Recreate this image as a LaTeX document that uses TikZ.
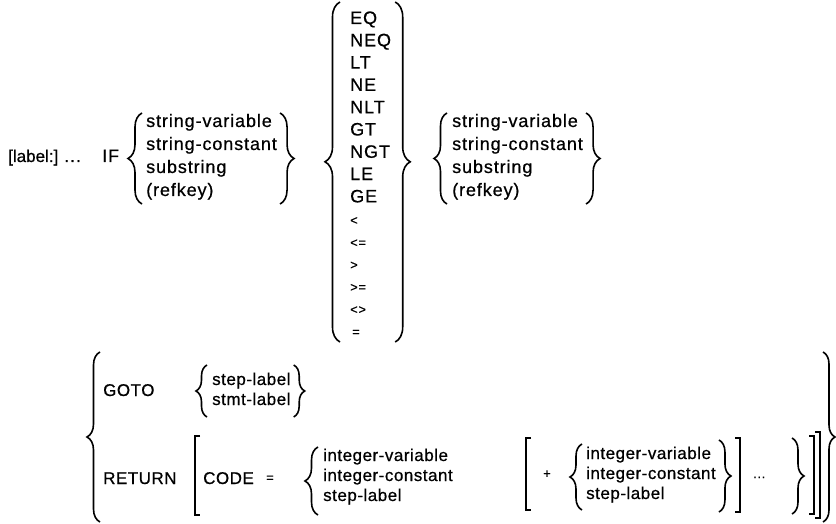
\documentclass[tikz,border=0pt]{standalone}
\usepackage{fontspec}
\setmainfont{Liberation Sans}[LetterSpace=5,FakeBold=0.6]
\usetikzlibrary{decorations.pathreplacing}
\tikzset{
  txt/.style={anchor=base west, inner sep=0pt, font=\fontsize{18}{21}\selectfont},
  btxt/.style={anchor=base west, inner sep=0pt, font=\fontsize{17}{20}\selectfont\addfontfeature{LetterSpace=3}},
  sym/.style={anchor=base west, inner sep=0pt, font=\fontsize{13}{15}\selectfont},
  brc/.style={decorate, decoration={brace, amplitude=#1}, line width=1.6pt},
  brk/.style={line width=1.8pt},
}
\begin{document}
\begin{tikzpicture}[x=1pt,y=-1pt]
\useasboundingbox[fill=white] (0,0) rectangle (836,524);
% ---- IF line
\node[anchor=base west, inner sep=0pt, font=\fontsize{17}{20}\selectfont\addfontfeature{LetterSpace=0}] (lab) at (8,162) {[label:]};
\node[txt] (dots1) at (64,162) {...};
\node[txt] (if) at (102,162) {IF};
\draw[brc=14pt] (142,204) -- (142,113);
\node[txt] (a1) at (146,127) {string-variable};
\node[txt] (a2) at (146,150) {string-constant};
\node[txt] (a3) at (146,173) {substring};
\node[txt] (a4) at (146,196) {(refkey)};
\coordinate (bB) at ([xshift=3pt]a2.east);
\draw[brc=14pt] (bB |- 0,113) -- (bB |- 0,204);
% ---- operators
\draw[brc=15pt,decoration={aspect=0.53}] (340,342) -- (340,2);
\foreach \t [count=\i from 0] in {EQ,NEQ,LT,NE,NLT,GT,NGT,LE,GE}
  \node[txt] (op\i) at (350,{24+\i*22.3}) {\t};
\node[sym] (op9)  at (350,{24+9*22.3}) {<};
\node[sym] (op10) at (350,{24+10*22.3}) {<=};
\node[sym] (op11) at (350,{24+11*22.3}) {>};
\node[sym] (op12) at (350,{24+12*22.3}) {>=};
\node[sym] (op13) at (350,{24+13*22.3}) {<>};
\node[sym] (op14) at (352,{24+14*22.3}) {=};
\coordinate (bD) at ([xshift=4pt]op1.east);
\draw[brc=15pt,decoration={aspect=0.47}] (bD |- 0,2) -- (bD |- 0,342);
% ---- second operand
\draw[brc=13pt] (447,204) -- (447,113);
\node[txt] (e1) at (452,127) {string-variable};
\node[txt] (e2) at (452,150) {string-constant};
\node[txt] (e3) at (452,173) {substring};
\node[txt] (e4) at (452,196) {(refkey)};
\coordinate (bE) at ([xshift=3pt]e2.east);
\draw[brc=14pt] (bE |- 0,113) -- (bE |- 0,204);
% ---- bottom part
\draw[brc=13pt] (100,522) -- (100,352);
\node[btxt] (goto) at (103,396) {GOTO};
\draw[brc=11pt] (207,417) -- (207,365);
\node[btxt] (g1) at (212,385) {step-label};
\node[btxt] (g2) at (212,405) {stmt-label};
\coordinate (bG) at ([xshift=3pt]g1.east);
\draw[brc=11pt] (bG |- 0,365) -- (bG |- 0,417);
\node[btxt] (ret) at (103,484) {RETURN};
\draw[brk] (200,436) -- (195,436) -- (195,515) -- (200,515);
\node[btxt] (code) at (203,484) {CODE};
\node[sym] (eq) at (266,482) {=};
\draw[brc=13pt] (318,515) -- (318,447);
\node[btxt] (i1) at (323,461) {integer-variable};
\node[btxt] (i2) at (323,481) {integer-constant};
\node[btxt] (i3) at (323,501) {step-label};
\draw[brk] (531,438) -- (526,438) -- (526,510) -- (531,510);
\node[sym] (plus) at (543,478) {+};
\draw[brc=12pt] (582,510) -- (582,444);
\node[btxt] (j1) at (586,459) {integer-variable};
\node[btxt] (j2) at (586,479) {integer-constant};
\node[btxt] (j3) at (586,499) {step-label};
\coordinate (bJ) at ([xshift=3pt]j2.east);
\draw[brc=12pt] (bJ |- 0,440) -- (bJ |- 0,512);
\draw[brk] (735,438) -- (740,438) -- (740,512) -- (735,512);
\node[sym] (dots2) at (753,478) {...};
\draw[brc=12pt] (792,438) -- (792,514);
\draw[brk] (809,436) -- (814,436) -- (814,514) -- (809,514);
\draw[brk] (815,432) -- (820,432) -- (820,518) -- (815,518);
\draw[brc=12pt] (823,352) -- (823,522);
\end{tikzpicture}
\end{document}
